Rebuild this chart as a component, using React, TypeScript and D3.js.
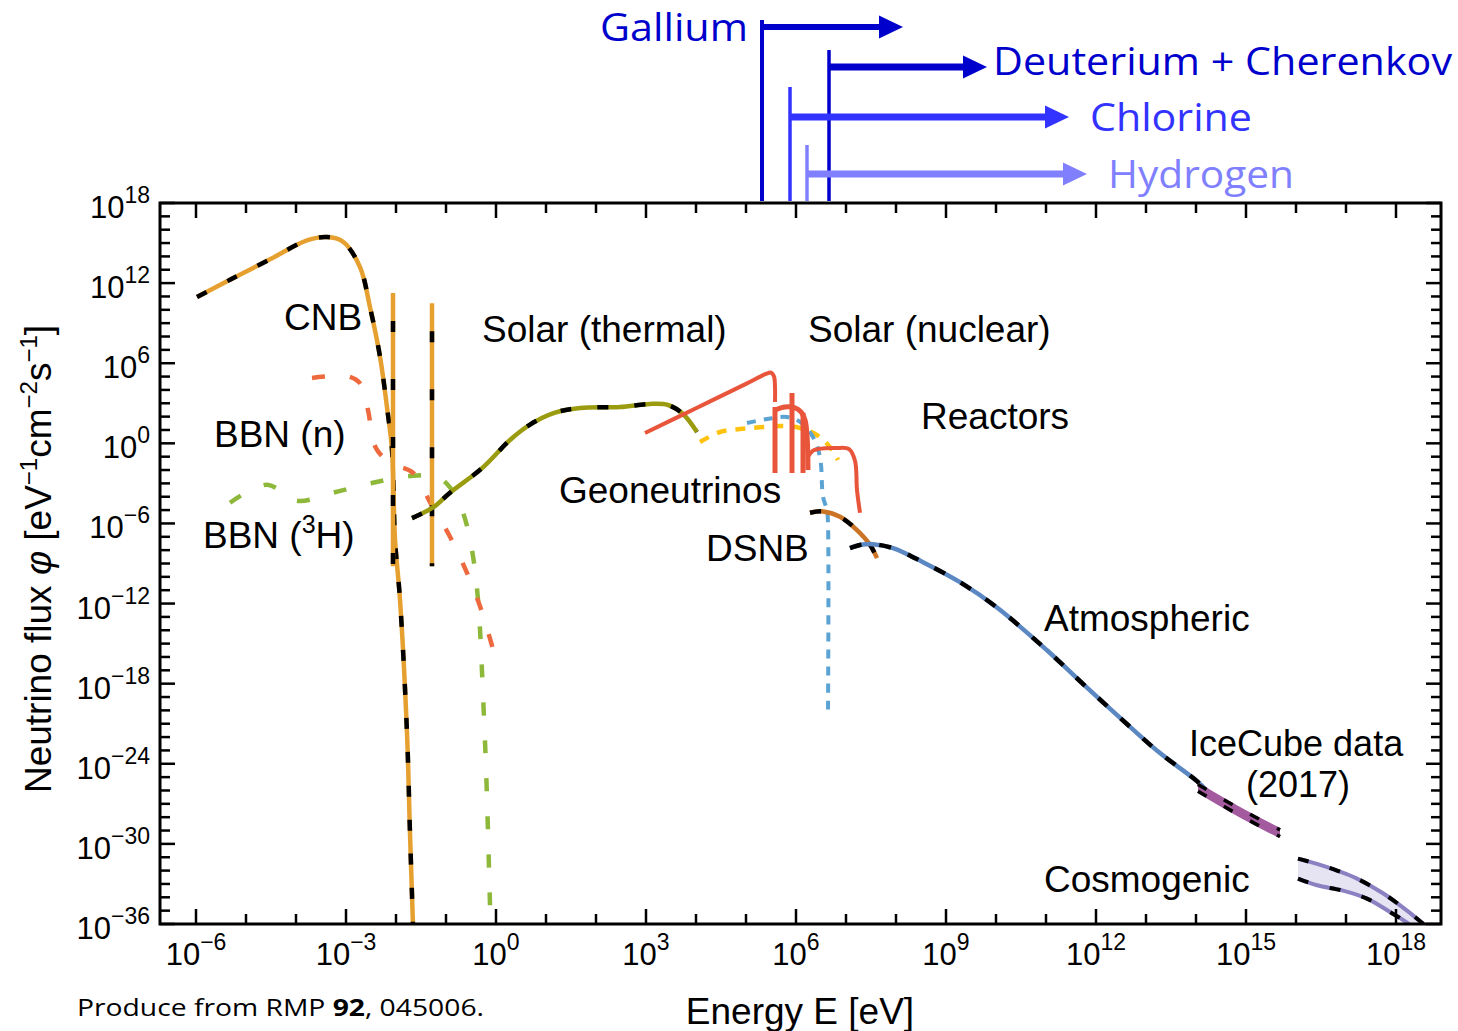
import React from "react";
import * as d3 from "d3";

type P = [number, number];

// All series: [log10(E / eV), log10(flux / (eV^-1 cm^-2 s^-1))]
const cnbSpectrum: P[] = [
  [-5.98, 10.96], [-5.32, 12.25], [-4.52, 13.78], [-3.78, 15.2], [-3.38, 15.45],
  [-3.06, 15.1], [-2.72, 13.2], [-2.52, 10.2], [-2.32, 6.5], [-2.18, 2.7],
  [-2.08, -0.5], [-2.02, -7.2], [-1.92, -11.7], [-1.78, -21.7], [-1.72, -29.2], [-1.66, -36.1],
];
const cnbLineE = [-2.06, -1.28];
const cnbLineTop = [11.26, 10.5];
const cnbLineBottom = [-9.2, -9.2];

const bbnNeutron: P[] = [
  [-3.68, 4.9], [-3.2, 5.05], [-2.92, 4.98], [-2.72, 4.5], [-2.56, 2.5], [-2.46, 0.2],
  [-2.36, -0.6], [-2.1, -1.5], [-1.66, -2.2], [-1.32, -4.4], [-0.92, -7.0],
  [-0.58, -9.7], [-0.32, -12.2], [-0.06, -15.4],
];
const bbnTritium: P[] = [
  [-5.32, -4.45], [-4.58, -3.1], [-3.98, -4.3], [-3.26, -3.7], [-2.52, -3.0],
  [-1.72, -2.45], [-1.18, -2.5], [-0.92, -3.3], [-0.66, -5.2], [-0.48, -8.0],
  [-0.36, -11.7], [-0.25, -19.7], [-0.19, -25.4], [-0.12, -34.6],
];
const solarThermal: P[] = [
  [-1.68, -5.6], [-1.26, -4.8], [-0.92, -3.7], [-0.26, -1.8], [0.28, 0.25], [0.68, 1.4],
  [1.18, 2.3], [1.68, 2.65], [2.48, 2.72], [3.08, 2.95], [3.44, 2.87], [3.74, 2.2], [4.02, 0.85],
];
const solarPP: P[] = [
  [2.98, 0.77], [4.0, 2.63], [5.0, 4.45], [5.4, 5.2], [5.5, 5.3], [5.56, 5.0], [5.58, 4.2], [5.58, 3.1],
];
const solarLineE = [5.58, 5.92, 6.14];
const solarLineTop = [2.72, 3.77, 2.3];
const solarLineBottom = [-2.22, -2.22, -2.22];
const solarCNO: P[] = [
  [5.58, 2.5], [5.78, 2.72], [5.98, 2.65], [6.1, 2.35], [6.18, 1.75], [6.22, 0.62], [6.24, -2.0],
];
const solarB8: P[] = [
  [6.24, -1.0], [6.34, -0.55], [6.44, -0.43], [6.8, -0.35], [7.06, -0.43], [7.18, -1.3],
  [7.22, -3.5], [7.28, -5.2],
];
const geoneutrinos: P[] = [
  [4.08, 0.1], [4.48, 0.85], [4.88, 1.07], [5.28, 1.2], [5.74, 1.3], [6.08, 1.15],
  [6.42, 0.62], [6.68, -0.28], [6.84, -1.25],
];
const reactors: P[] = [
  [5.02, 1.52], [5.42, 1.82], [5.82, 1.97], [6.08, 1.6], [6.34, 0.47], [6.48, -1.02],
  [6.54, -4.0], [6.62, -5.0], [6.64, -6.0], [6.64, -20.2],
];
const dsnb: P[] = [
  [6.28, -5.2], [6.54, -5.1], [6.88, -5.5], [7.22, -6.5], [7.48, -7.6], [7.62, -8.6],
];
const atmospheric: P[] = [
  [7.08, -7.85], [7.3, -7.6], [7.54, -7.55], [7.94, -7.85], [8.54, -8.9], [9.28, -10.4],
  [10.02, -12.3], [11.02, -15.5], [11.82, -18.3], [12.82, -21.7], [13.28, -23.2],
  [14.02, -25.3], [14.24, -26.1],
];
const iceCubeUpper: P[] = [[14.04, -25.55], [14.82, -27.25], [15.68, -28.95]];
const iceCubeLower: P[] = [[14.04, -26.05], [14.82, -27.75], [15.68, -29.45]];
const cosmoUpper: P[] = [
  [16.04, -31.1], [16.42, -31.5], [16.82, -32.0], [17.22, -32.6], [17.74, -33.7], [18.22, -35.0], [18.58, -36.1],
];
const cosmoLower: P[] = [
  [16.04, -32.6], [16.42, -33.1], [16.94, -33.5], [17.42, -34.1], [17.88, -35.1], [18.22, -35.9], [18.4, -36.5],
];

const detectorNames = ["Gallium", "Deuterium + Cherenkov", "Chlorine", "Hydrogen"];
const detectorThresholdLogE = [5.32, 6.66, 5.88, 6.22];
const detectorArrowEndLogE = [8.14, 9.82, 11.46, 11.82];
const detectorColors = ["#0000CC", "#0000CC", "#3333FF", "#8080FF"];

const xTickExps = d3.range(-6, 19);
const yTickExps = d3.range(-36, 19);
const xLabelExps = [-6, -3, 0, 3, 6, 9, 12, 15, 18];
const yLabelExps = [18, 12, 6, 0, -6, -12, -18, -24, -30, -36];

const ARIAL = "'Liberation Sans', Arimo, Arial, sans-serif";
const CAL = "'Open Sans', 'Noto Sans', sans-serif";

const fmt = (k: number) => (k < 0 ? "\u2212" + Math.abs(k) : String(k));

export default function App() {
  const L = 160, R = 1441, T = 203, B = 924;
  const xs = d3.scaleLog().domain([Math.pow(10, -6.72), Math.pow(10, 18.9)]).range([L, R]);
  const ys = d3.scaleLog().domain([1e-36, 1e18]).range([B, T]);
  const px = (e: number) => xs(Math.pow(10, e));
  const py = (f: number) => ys(Math.pow(10, f));
  const smooth = d3.line<P>().x((d) => px(d[0])).y((d) => py(d[1])).curve(d3.curveCatmullRom.alpha(0.5));
  const straight = d3.line<P>().x((d) => px(d[0])).y((d) => py(d[1]));

  const band = (up: P[], lo: P[]) => {
    const a = smooth(up) as string;
    const b = (smooth([...lo].reverse()) as string).replace(/^M/, "L");
    return a + b + "Z";
  };

  const Dashed = ({ d, color, w = 4.5, dash = "11,23", off = 0 }: any) => (
    <g>
      <path d={d} stroke={color} strokeWidth={w} fill="none" />
      <path d={d} stroke="#000" strokeWidth={w} fill="none" strokeDasharray={dash} strokeDashoffset={off} />
    </g>
  );

  const lbl = (x: number, y: number, t: React.ReactNode, fs = 37) => (
    <text x={x} y={y} fontFamily={ARIAL} fontSize={fs} fill="#000">{t}</text>
  );

  const barY = [27, 67, 117, 174];
  const vTop = [20, 50, 87, 145];
  const barW = [6, 7, 7, 7];
  const textX = [748, 993, 1090, 1108];
  const textY = [41, 75, 131, 188];
  const textLen = [148, 459, 162, 186];

  return (
    <svg width={1458} height={1031} style={{ position: "absolute", left: 0, top: 0, background: "#fff" }}>
      <defs>
        <clipPath id="plot">
          <rect x={L} y={T} width={R - L} height={B - T} />
        </clipPath>
      </defs>
      <rect x={0} y={0} width={1458} height={1031} fill="#fff" />

      <g clipPath="url(#plot)" strokeLinecap="butt" strokeLinejoin="round">
        {/* Cosmogenic band */}
        <path d={band(cosmoUpper, cosmoLower)} fill="#E6E4F2" stroke="none" />
        <Dashed d={smooth(cosmoUpper)} color="#8B80C2" w={4} dash="11,22" />
        <Dashed d={smooth(cosmoLower)} color="#8B80C2" w={4} dash="11,22" />

        {/* BBN */}
        <path d={smooth(bbnTritium) as string} stroke="#8DB83A" strokeWidth={4.5} fill="none" strokeDasharray="13,25" />
        <path d={smooth(bbnNeutron) as string} stroke="#EE6A3E" strokeWidth={4.5} fill="none" strokeDasharray="13,25" />

        {/* CNB */}
        <Dashed d={smooth(cnbSpectrum)} color="#E6A030" />
        {cnbLineE.map((e, i) => (
          <Dashed key={i} d={straight([[e, cnbLineTop[i]], [e, cnbLineBottom[i]]])} color="#E6A030" w={4.5} dash="11,47" off={-28} />
        ))}

        {/* Solar thermal */}
        <Dashed d={smooth(solarThermal)} color="#9B9B10" dash="11,26" />

        {/* Geoneutrinos */}
        <path d={smooth(geoneutrinos) as string} stroke="#FFC20E" strokeWidth={4.5} fill="none" strokeDasharray="10,9" />
        {/* Reactors */}
        <path d={smooth(reactors) as string} stroke="#5BA3D3" strokeWidth={4} fill="none" strokeDasharray="9,8" />

        {/* Solar nuclear */}
        <path d={smooth(solarPP) as string} stroke="#E9553B" strokeWidth={4} fill="none" />
        {solarLineE.map((e, i) => (
          <path key={i} d={straight([[e, solarLineTop[i]], [e, solarLineBottom[i]]]) as string} stroke="#E9553B" strokeWidth={5} fill="none" />
        ))}
        <path d={smooth(solarCNO) as string} stroke="#E9553B" strokeWidth={5} fill="none" />
        <path d={smooth(solarB8) as string} stroke="#E9553B" strokeWidth={4} fill="none" />

        {/* DSNB */}
        <Dashed d={smooth(dsnb)} color="#CB7426" dash="11,24" />
        {/* Atmospheric */}
        <Dashed d={smooth(atmospheric)} color="#5B87C2" dash="12,18" />

        {/* IceCube */}
        <path d={band(iceCubeUpper, iceCubeLower)} fill="#A35A9E" stroke="none" />
        <Dashed d={smooth(iceCubeUpper)} color="#A35A9E" w={3.5} dash="10,20" />
        <Dashed d={smooth(iceCubeLower)} color="#A35A9E" w={3.5} dash="10,20" />
      </g>

      {/* Frame and ticks */}
      <g stroke="#000" strokeWidth={2.5}>
        {xTickExps.map((k) => {
          const X = px(k);
          const len = k % 3 === 0 ? 15 : 10;
          return (
            <g key={"x" + k}>
              <line x1={X} x2={X} y1={B} y2={B - len} />
              <line x1={X} x2={X} y1={T} y2={T + len} />
            </g>
          );
        })}
        {yTickExps.map((k) => {
          const Y = py(k);
          const len = k % 6 === 0 ? 15 : 10;
          return (
            <g key={"y" + k}>
              <line x1={L} x2={L + len} y1={Y} y2={Y} />
              <line x1={R} x2={R - len} y1={Y} y2={Y} />
            </g>
          );
        })}
        <rect x={L} y={T} width={R - L} height={B - T} fill="none" strokeWidth={3} />
      </g>

      {/* Tick labels */}
      <g fontFamily={ARIAL} fill="#000">
        {xLabelExps.map((k) => (
          <text key={"xl" + k} x={px(k)} y={965} textAnchor="middle" fontSize={31}>
            10<tspan dy={-15} fontSize={23}>{fmt(k)}</tspan>
          </text>
        ))}
        {yLabelExps.map((k) => (
          <text key={"yl" + k} x={150} y={py(k) + 15} textAnchor="end" fontSize={31}>
            10<tspan dy={-15} fontSize={23}>{fmt(k)}</tspan>
          </text>
        ))}
      </g>

      {/* Axis titles */}
      <text x={800} y={1024} textAnchor="middle" fontFamily={ARIAL} fontSize={37}>Energy E [eV]</text>
      <text x={51} y={559} transform="rotate(-90 51 559)" textAnchor="middle" fontFamily={ARIAL} fontSize={37}>
        Neutrino flux <tspan fontStyle="italic">φ</tspan> [eV<tspan dy={-14} fontSize={24}>−1</tspan>
        <tspan dy={14}>cm</tspan><tspan dy={-14} fontSize={24}>−2</tspan><tspan dy={14}>s</tspan>
        <tspan dy={-14} fontSize={24}>−1</tspan><tspan dy={14}>]</tspan>
      </text>

      {/* Curve labels */}
      {lbl(284, 330, "CNB")}
      {lbl(482, 342, "Solar (thermal)")}
      {lbl(808, 342, "Solar (nuclear)")}
      {lbl(921, 429, "Reactors")}
      {lbl(214, 447, "BBN (n)")}
      {lbl(559, 503, "Geoneutrinos")}
      <text x={203} y={548} fontFamily={ARIAL} fontSize={37}>
        BBN (<tspan dy={-15} fontSize={25}>3</tspan><tspan dy={15}>H)</tspan>
      </text>
      {lbl(706, 561, "DSNB")}
      {lbl(1044, 631, "Atmospheric")}
      {lbl(1189, 756, "IceCube data", 36)}
      {lbl(1246, 797, "(2017)", 36)}
      {lbl(1044, 892, "Cosmogenic")}

      {/* Detector thresholds */}
      {detectorNames.map((name, i) => {
        const x0 = px(detectorThresholdLogE[i]);
        const x1 = px(detectorArrowEndLogE[i]);
        const c = detectorColors[i];
        const yb = barY[i];
        const hl = 24, hh = 11.5;
        return (
          <g key={name}>
            <line x1={x0} x2={x0} y1={vTop[i]} y2={201} stroke={c} strokeWidth={i === 0 ? 4 : 3.5} />
            <line x1={x0} x2={x1 - hl + 2} y1={yb} y2={yb} stroke={c} strokeWidth={barW[i]} />
            <polygon points={`${x1 - hl},${yb - hh} ${x1},${yb} ${x1 - hl},${yb + hh}`} fill={c} />
            <text
              x={textX[i]}
              y={textY[i]}
              textAnchor={i === 0 ? "end" : "start"}
              fontFamily={CAL}
              fontSize={39}
              fill={c}
              textLength={textLen[i]}
              lengthAdjust="spacingAndGlyphs"
            >
              {name}
            </text>
          </g>
        );
      })}

      {/* Source note */}
      <text x={77} y={1016} fontFamily={CAL} fontSize={24} fill="#000" textLength={407} lengthAdjust="spacingAndGlyphs">
        Produce from RMP <tspan fontWeight="bold">92</tspan>, 045006.
      </text>
    </svg>
  );
}
